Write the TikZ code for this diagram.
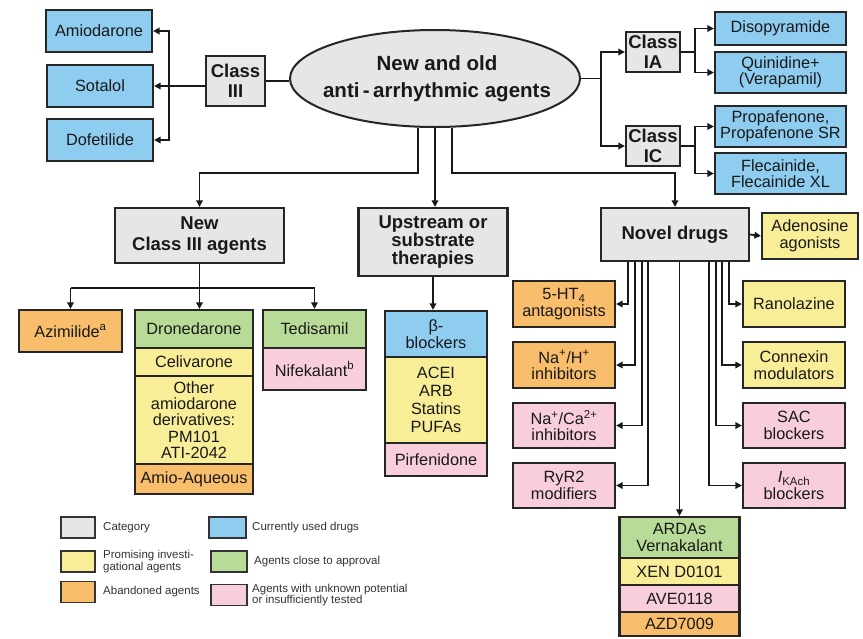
\documentclass[tikz,border=0pt]{standalone}
\usepackage{fontspec}
\setmainfont{Liberation Sans}
\usetikzlibrary{arrows.meta,shapes.geometric}
\definecolor{cgray}{RGB}{230,230,230}
\definecolor{cblue}{RGB}{142,205,240}
\definecolor{cgreen}{RGB}{184,220,152}
\definecolor{cyellow}{RGB}{248,238,152}
\definecolor{corange}{RGB}{248,190,108}
\definecolor{cpink}{RGB}{248,206,219}
\newcommand{\fnorm}{\fontsize{16.3}{16.5}\selectfont}
\newcommand{\fbold}{\fontsize{18.5}{20.5}\selectfont\bfseries}
\begin{document}
\begin{tikzpicture}[x=1pt,y=-1pt,
 box/.style={draw=black!85, line width=2.2pt, inner sep=1pt, align=center, font=\fnorm, text=black!90},
 cat/.style={box, fill=cgray, font=\fbold},
 wh/.style 2 args={minimum width=#1pt, minimum height=#2pt},
 conn/.style={line width=1.8pt, draw=black!90},
 arr/.style={conn, -{Triangle[length=6.5pt,width=6.5pt]}},
 sw/.style={draw=black!80, line width=1.3pt, minimum width=34pt, minimum height=21pt, inner sep=0pt},
 lg/.style={anchor=west, align=left, font=\fontsize{11.5}{11.5}\selectfont, inner sep=0pt, text=black!80}
]
\useasboundingbox (0,0) rectangle (863,638);
\fill[white] (0,0) rectangle (863,638);

% ---- top left: Class III
\node[box,fill=cblue,wh={106}{42}] (amio) at (99,31) {Amiodarone};
\node[box,fill=cblue,wh={106}{42}] (sota) at (100,86) {Sotalol};
\node[box,fill=cblue,wh={106}{42}] (dofe) at (100,140) {Dofetilide};
\node[cat,wh={59}{50}] (c3) at (235.5,81) {Class\\III};

% ---- central ellipse
\node[ellipse, draw=black!85, line width=2pt, fill=cgray, minimum width=290pt, minimum height=97pt, inner sep=0pt] (main) at (435,78.5) {};
\node[align=center, font=\fontsize{20.5}{27}\selectfont\bfseries, text=black!90] (maintxt) at (437,78.5) {New and old\\anti\,-\,arrhythmic agents};

\draw[conn] (c3.east) -- (c3.east -| main.west);
\coordinate (b3) at (169,86);
\draw[arr] (c3.west |- sota) -- (sota.east);
\draw[arr] (b3) |- (amio.east);
\draw[arr] (b3) |- (dofe.east);

% ---- top right: Class IA / IC
\node[cat,wh={54}{40}] (cIA) at (653,52) {Class\\IA};
\node[cat,wh={54}{40}] (cIC) at (653,146) {Class\\IC};
\node[box,fill=cblue,wh={131}{33}] (diso) at (780.5,28.5) {Disopyramide};
\node[box,fill=cblue,wh={131}{41}] (quin) at (780.5,72.5) {Quinidine+\\(Verapamil)};
\node[box,fill=cblue,wh={131}{41}] (prop) at (780.5,126.5) {Propafenone,\\Propafenone SR};
\node[box,fill=cblue,wh={131}{41}] (flec) at (780.5,173.5) {Flecainide,\\Flecainide XL};

\coordinate (br) at (601,79);
\draw[conn] (main.east) -- (main.east -| br);
\draw[arr] (main.east -| br) |- (cIA.west);
\draw[arr] (main.east -| br) |- (cIC.west);
\coordinate (bIA) at (695,52);
\draw[conn] (cIA.east) -- (bIA);
\draw[arr] (bIA) |- (diso.west);
\draw[arr] (bIA) |- (quin.west);
\coordinate (bIC) at (695,146);
\draw[conn] (cIC.east) -- (bIC);
\draw[arr] (bIC) |- (prop.west);
\draw[arr] (bIC) |- (flec.west);

% ---- middle categories
\node[cat,wh={169}{55}] (nc3) at (199.5,235.5) {New\\Class III agents};
\node[cat,wh={149}{68},font=\fontsize{18.5}{18}\selectfont\bfseries] (up) at (433,242) {Upstream or\\substrate\\therapies};
\node[cat,wh={148}{53}] (nov) at (675,234.5) {Novel drugs};
\node[box,fill=cyellow,wh={96}{46}] (aden) at (810,236) {Adenosine\\agonists};

\coordinate (jl) at (199.5,173);
\draw[arr] ([xshift=-17pt]main.south) |- (jl) -- (nc3);
\draw[arr] (main.south) -- (main.south |- up.north);
\coordinate (jr) at (675,173);
\draw[arr] ([xshift=17pt]main.south) |- (jr) -- (nov);
\draw[arr] (nov.east) -- (aden.west);

% ---- New Class III children
\node[box,fill=corange,wh={103}{42}] (azi) at (70.5,331) {Azimilide\textsuperscript{a}};
\node[box,fill=cgreen,wh={118}{38}] (dron) at (194,329) {Dronedarone};
\node[box,fill=cyellow,wh={118}{28}] (celi) at (194,362) {Celivarone};
\node[box,fill=cyellow,wh={118}{88},font=\fontsize{16.3}{16.2}\selectfont] (oth) at (194,420) {Other\\amiodarone\\derivatives:\\PM101\\ATI-2042};
\node[box,fill=corange,wh={118}{30}] (aaq) at (194,479) {Amio-Aqueous};
\node[box,fill=cgreen,wh={103}{38}] (ted) at (314.5,329) {Tedisamil};
\node[box,fill=cpink,wh={103}{42}] (nif) at (314.5,369) {Nifekalant\textsuperscript{b}};

\coordinate (jb) at (0,288);
\draw[conn] (nc3.south) -- (nc3.south |- jb);
\draw[conn] (azi.north |- jb) -- (ted.north |- jb);
\draw[arr] (azi.north |- jb) -- (azi.north);
\draw[arr] (nc3.south |- jb) -- (nc3.south |- dron.north);
\draw[arr] (ted.north |- jb) -- (ted.north);

% ---- Upstream children
\node[box,fill=cblue,wh={102}{46}] (beta) at (436,334) {β-\\blockers};
\node[box,fill=cyellow,wh={102}{86},font=\fontsize{16.3}{18}\selectfont] (acei) at (436,400) {ACEI\\ARB\\Statins\\PUFAs};
\node[box,fill=cpink,wh={102}{33}] (pirf) at (436,459.5) {Pirfenidone};
\draw[arr] (up.south) -- (up.south |- beta.north);

% ---- Novel drugs children
\node[box,fill=corange,wh={102}{46}] (ht4) at (564,304) {5-HT\textsubscript{4}\\antagonists};
\node[box,fill=corange,wh={102}{46}] (nah) at (564,365) {Na\textsuperscript{+}/H\textsuperscript{+}\\inhibitors};
\node[box,fill=cpink,wh={102}{45}] (naca) at (564,425.5) {Na\textsuperscript{+}/Ca\textsuperscript{2+}\\inhibitors};
\node[box,fill=cpink,wh={102}{45}] (ryr) at (564,485.5) {RyR2\\modifiers};
\node[box,fill=cyellow,wh={102}{46}] (rano) at (794,304) {Ranolazine};
\node[box,fill=cyellow,wh={102}{46}] (conx) at (794,365) {Connexin\\modulators};
\node[box,fill=cpink,wh={102}{45}] (sac) at (794,425.5) {SAC\\blockers};
\node[box,fill=cpink,wh={102}{45}] (ika) at (794,485.5) {\textit{I}\textsubscript{KAch}\\blockers};

\node[box,fill=cgreen,wh={120}{41}] (ardas) at (679.5,537.5) {ARDAs\\Vernakalant};
\node[box,fill=cyellow,wh={120}{27}] (xen) at (679.5,571.5) {XEN D0101};
\node[box,fill=cpink,wh={120}{27}] (ave) at (679.5,598.5) {AVE0118};
\node[box,fill=corange,wh={120}{24}] (azd) at (679.5,624) {AZD7009};

\draw[arr] ([xshift=-47pt]nov.south) |- (ht4.east);
\draw[arr] ([xshift=-40pt]nov.south) |- (nah.east);
\draw[arr] ([xshift=-33pt]nov.south) |- (naca.east);
\draw[arr] ([xshift=-27pt]nov.south) |- (ryr.east);
\draw[arr] ([xshift=54pt]nov.south) |- (rano.west);
\draw[arr] ([xshift=47pt]nov.south) |- (conx.west);
\draw[arr] ([xshift=41pt]nov.south) |- (sac.west);
\draw[arr] ([xshift=34pt]nov.south) |- (ika.west);
\draw[arr] ([xshift=4.5pt]nov.south) -- ([xshift=4.5pt]nov.south |- ardas.north);

% ---- legend
\node[sw,fill=cgray] (l1) at (78,527.5) {};
\node[lg] (t1) at (103,527.5) {Category};
\node[sw,fill=cyellow] (l2) at (78,561.5) {};
\node[lg] (t2) at (103,561.5) {Promising investi-\\gational agents};
\node[sw,fill=corange] (l3) at (78,592) {};
\node[lg] (t3) at (103,592) {Abandoned agents};
\node[sw,fill=cblue,minimum width=37pt] (l4) at (227.5,527.5) {};
\node[lg] (t4) at (252,527.5) {Currently used drugs};
\node[sw,fill=cgreen,minimum width=36pt] (l5) at (229,561.5) {};
\node[lg] (t5) at (254,561.5) {Agents close to approval};
\node[sw,fill=cpink,minimum width=36pt] (l6) at (229,595) {};
\node[lg] (t6) at (252,595) {Agents with unknown potential\\or insufficiently tested};
\end{tikzpicture}
\end{document}
